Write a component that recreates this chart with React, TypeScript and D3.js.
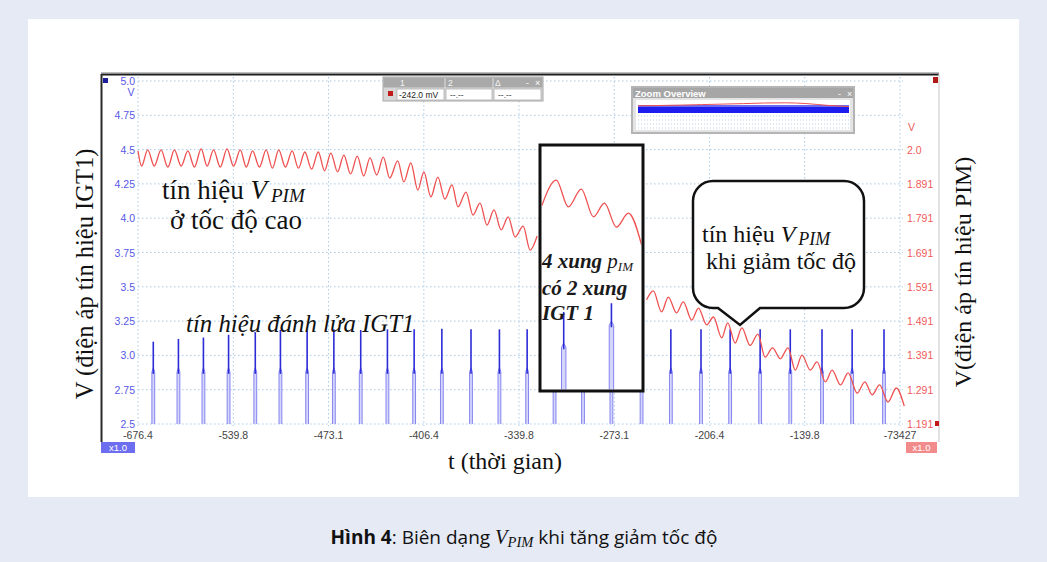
import React from 'react';
import * as d3 from 'd3';

const W = 1047;
const H = 562;

// ---- axes ----
const timeTicks = [-606.5, -539.8, -473.1, -406.4, -339.8, -273.1, -206.4, -139.8, -73.1];
const timeTickLabels = ['-676.4', '-539.8', '-473.1', '-406.4', '-339.8', '-273.1', '-206.4', '-139.8', '-73427'];
const igtTicks = [2.5, 2.75, 3.0, 3.25, 3.5, 3.75, 4.0, 4.25, 4.5, 4.75, 5.0];
const igtTickLabels = ['2.5', '2.75', '3.0', '3.25', '3.5', '3.75', '4.0', '4.25', '4.5', '4.75', '5.0'];
const pimTicks = [1.191, 1.291, 1.391, 1.491, 1.591, 1.691, 1.791, 1.891, 1.991];
const pimTickLabels = ['1.191', '1.291', '1.391', '1.491', '1.591', '1.691', '1.791', '1.891', '2.0'];

// ---- V_PIM signal (t, V) : extrema ----
const pimBefore: [number, number][] = [
  [-606.5, 1.987], [-604.0, 1.943], [-599.7, 1.990], [-595.1, 1.943], [-590.4, 1.990], [-585.6, 1.940],
  [-581.0, 1.990], [-576.3, 1.943], [-571.6, 1.987], [-567.0, 1.940], [-562.3, 1.993], [-558.1, 1.943],
  [-553.6, 1.990], [-548.9, 1.940], [-544.2, 1.993], [-539.6, 1.943], [-534.9, 1.990], [-530.7, 1.940],
  [-526.3, 1.987], [-521.5, 1.940], [-516.8, 1.990], [-512.4, 1.937], [-508.0, 1.990], [-503.3, 1.940],
  [-498.6, 1.987], [-494.2, 1.937], [-489.7, 1.984], [-485.0, 1.934], [-480.3, 1.984], [-475.9, 1.929],
  [-471.5, 1.981], [-466.8, 1.926], [-462.4, 1.975], [-457.7, 1.920], [-453.0, 1.972], [-448.5, 1.914],
  [-444.1, 1.967], [-439.4, 1.917], [-434.8, 1.969], [-430.3, 1.908], [-424.7, 1.958], [-420.4, 1.897],
  [-415.5, 1.952], [-410.6, 1.873], [-406.4, 1.926], [-401.5, 1.853], [-396.6, 1.911], [-391.7, 1.847],
  [-386.7, 1.888], [-382.5, 1.824], [-376.9, 1.867], [-372.0, 1.800], [-367.1, 1.835], [-362.2, 1.771],
  [-357.3, 1.815], [-352.3, 1.757], [-347.4, 1.795], [-342.5, 1.736], [-336.9, 1.768], [-332.0, 1.698],
  [-327.1, 1.739],
];
const pimInset: [number, number][] = [
  [-323.8, 1.828], [-313.7, 1.902], [-305.3, 1.824], [-296.2, 1.876], [-287.7, 1.795],
  [-280.0, 1.835], [-271.6, 1.765], [-263.2, 1.806], [-254.0, 1.713],
];
const pimAfter: [number, number][] = [
  [-250.5, 1.553], [-245.8, 1.579], [-240.0, 1.518], [-235.3, 1.561], [-229.5, 1.515], [-224.8, 1.547],
  [-218.9, 1.494], [-214.2, 1.529], [-208.4, 1.480], [-203.7, 1.503], [-197.9, 1.442], [-193.7, 1.486],
  [-188.5, 1.427], [-183.8, 1.471], [-178.0, 1.420], [-172.6, 1.453], [-167.5, 1.386], [-162.3, 1.413],
  [-156.9, 1.381], [-151.5, 1.413], [-146.4, 1.348], [-141.7, 1.392], [-135.9, 1.348], [-131.2, 1.372],
  [-125.3, 1.314], [-120.6, 1.348], [-114.8, 1.305], [-109.4, 1.340], [-103.1, 1.281], [-97.7, 1.314],
  [-92.6, 1.276], [-87.4, 1.305], [-81.5, 1.255], [-75.7, 1.296], [-70.1, 1.243],
];

// ---- IGT1 ignition pulses ----
const igtTimes = [-595.8, -578.2, -560.7, -543.1, -524.4, -506.8, -488.1, -469.4, -450.6, -431.9, -413.2,
  -393.8, -373.4, -353.5, -334.1, -314.9, -295.0, -275.1, -254.0, -233.5, -212.4, -192.0, -171.0, -149.9,
  -127.7, -106.6, -84.3];
const igtPeaks = [3.10, 3.12, 3.13, 3.15, 3.17, 3.185, 3.18, 3.19, 3.185, 3.19, 3.19, 3.195, 3.19, 3.19,
  3.19, 3.19, 3.19, 3.19, 3.13, 3.19, 3.19, 3.19, 3.19, 3.19, 3.19, 3.19, 3.19];
const insetIgtTimes = [-308.5, -275.1];
const insetIgtPeaks = [3.316, 3.38];
const insetIgtKnees = [3.06, 3.22];

// overview thumbnail red trace (level offsets above the blue band)
const overviewRed = [0.2, 0.5, 0.9, 1.4, 1.9, 2.4, 3.0, 3.2, 2.4, 0.6, -0.6];

const SERIF = '"Liberation Serif", "Times New Roman", serif';
const SANS = '"Liberation Sans", Arial, sans-serif';

export default function App() {
  const x = d3.scaleLinear().domain([-606.5, -73.1]).range([138, 900]);
  const yL = d3.scaleLinear().domain([2.5, 5.0]).range([424, 81]);
  const yR = d3.scaleLinear().domain([1.191, 2.191]).range([424, 81]);
  const line = d3
    .line<[number, number]>()
    .x((d) => x(d[0]))
    .y((d) => yR(d[1]))
    .curve(d3.curveMonotoneX);

  const gridColor = '#a9c9e6';
  const box = { x0: 540, y0: 145, x1: 643, y1: 391 };
  const bub = { x0: 693, y0: 181, x1: 864, y1: 308, r: 20 };
  const bubblePath = `M${bub.x0 + bub.r},${bub.y0} H${bub.x1 - bub.r} A${bub.r},${bub.r} 0 0 1 ${bub.x1},${bub.y0 + bub.r}
    V${bub.y1 - bub.r} A${bub.r},${bub.r} 0 0 1 ${bub.x1 - bub.r},${bub.y1} H760 L740,325 L718,${bub.y1}
    H${bub.x0 + bub.r} A${bub.r},${bub.r} 0 0 1 ${bub.x0},${bub.y1 - bub.r} V${bub.y0 + bub.r}
    A${bub.r},${bub.r} 0 0 1 ${bub.x0 + bub.r},${bub.y0} Z`;

  const ovX = d3.scaleLinear().domain([0, overviewRed.length - 1]).range([638, 849]);
  const ovLine = d3
    .line<number>()
    .x((_, i) => ovX(i))
    .y((d) => 106 - d)
    .curve(d3.curveMonotoneX);

  const spike = (t: number, p: number, key: string, knee = 2.88, baseV = 2.5, w = 1.4) => {
    const cx = x(t);
    const yk = yL(knee);
    const yb = yL(baseV);
    return (
      <g key={key}>
        <path
          d={`M${cx - w},${yb} V${yk} L${cx},${yk - 4} L${cx + w},${yk} V${yb}`}
          fill="#d6d6fa"
          stroke="#8585f0"
          strokeWidth={1}
        />
        <line x1={cx} x2={cx} y1={yL(p)} y2={yk + 2} stroke="#2b2bd8" strokeWidth={1.6} />
      </g>
    );
  };

  return (
    <svg width={W} height={H} style={{ position: 'absolute', left: 0, top: 0 }}>
      <defs>
        <clipPath id="boxClip">
          <rect x={box.x0 + 1.5} y={box.y0 + 1.5} width={box.x1 - box.x0 - 3} height={box.y1 - box.y0 - 3} />
        </clipPath>
      </defs>
      <rect x={0} y={0} width={W} height={H} fill="#e6eaf5" />
      <rect x={28} y={19} width={991} height={478} fill="#ffffff" />

      {/* frame */}
      <line x1={101} x2={939} y1={74.5} y2={74.5} stroke="#1c1c1c" strokeWidth={2.2} />
      <line x1={101} x2={939} y1={72.5} y2={72.5} stroke="#bdbdbd" strokeWidth={1} />
      <line x1={101.5} x2={101.5} y1={74} y2={442} stroke="#2a2a2a" strokeWidth={2} />
      <line x1={939} x2={939} y1={74} y2={442} stroke="#cfcfcf" strokeWidth={1.2} />
      <rect x={103} y={78} width={5} height={5} fill="#1d1d9a" />
      <rect x={933} y={77} width={5} height={6} fill="#b01818" />
      <rect x={935} y={421} width={4} height={5} fill="#c01818" />

      {/* grid */}
      {igtTicks.map((v) => (
        <line key={'gh' + v} x1={138} x2={903} y1={yL(v)} y2={yL(v)} stroke={gridColor} strokeWidth={1} strokeDasharray="1.5,2.5" />
      ))}
      {timeTicks.map((t) => (
        <line key={'gv' + t} x1={x(t)} x2={x(t)} y1={77} y2={426} stroke={gridColor} strokeWidth={1} strokeDasharray="1.5,2.5" />
      ))}

      {/* tick labels */}
      {igtTicks.map((v, i) => (
        <text key={'lt' + v} x={135} y={yL(v) + 4} textAnchor="end" fontFamily={SANS} fontSize={10.5} fill="#5757e6">
          {igtTickLabels[i]}
        </text>
      ))}
      <text x={131} y={96} textAnchor="middle" fontFamily={SANS} fontSize={10.5} fill="#5757e6">V</text>
      {pimTicks.map((v, i) => (
        <text key={'rt' + v} x={907} y={yR(v) + 4} textAnchor="start" fontFamily={SANS} fontSize={10.5} fill="#f05a5a">
          {pimTickLabels[i]}
        </text>
      ))}
      <text x={908} y={131} textAnchor="start" fontFamily={SANS} fontSize={10.5} fill="#f05a5a">V</text>
      {timeTicks.map((t, i) => (
        <text key={'xt' + t} x={x(t)} y={439} textAnchor="middle" fontFamily={SANS} fontSize={10.5} fill="#444">
          {timeTickLabels[i]}
        </text>
      ))}
      <rect x={101} y={442} width={34} height={11} fill="#6d6df0" />
      <text x={118} y={451} textAnchor="middle" fontFamily={SANS} fontSize={9.5} fill="#ffffff">x1.0</text>
      <rect x={906} y={442} width={31} height={11} fill="#f28c8c" />
      <text x={921.5} y={451} textAnchor="middle" fontFamily={SANS} fontSize={9.5} fill="#ffffff">x1.0</text>

      {/* IGT1 pulses */}
      {igtTimes.map((t, i) => spike(t, igtPeaks[i], 'sp' + i))}

      {/* V_PIM trace */}
      <path d={line(pimBefore) || ''} fill="none" stroke="#ef5050" strokeWidth={1.3} />
      <path d={line(pimAfter) || ''} fill="none" stroke="#ef5050" strokeWidth={1.3} />

      {/* readout box */}
      <rect x={383} y={77} width={160} height={24} fill="#d6d6d6" stroke="#a8a8a8" strokeWidth={1} />
      <rect x={383.5} y={77.5} width={159} height={10} fill="#a9a9a9" />
      <text x={400} y={86} fontFamily={SANS} fontSize={8.5} fill="#f4f4f4">1</text>
      <text x={448} y={86} fontFamily={SANS} fontSize={8.5} fill="#f4f4f4">2</text>
      <text x={495} y={86} fontFamily={SANS} fontSize={8.5} fill="#f4f4f4">Δ</text>
      <text x={526} y={86} fontFamily={SANS} fontSize={9} fill="#ffffff">-</text>
      <text x={535} y={86} fontFamily={SANS} fontSize={9} fill="#ffffff">×</text>
      <line x1={445} x2={445} y1={78} y2={88} stroke="#e0e0e0" />
      <line x1={493} x2={493} y1={78} y2={88} stroke="#e0e0e0" />
      <rect x={397} y={89} width={47} height={11} fill="#ffffff" stroke="#b0b0b0" strokeWidth={0.8} />
      <rect x={446} y={89} width={46} height={11} fill="#ffffff" stroke="#b0b0b0" strokeWidth={0.8} />
      <rect x={494} y={89} width={47} height={11} fill="#ffffff" stroke="#b0b0b0" strokeWidth={0.8} />
      <rect x={388} y={91} width={5} height={5} fill="#c01a1a" />
      <text x={399} y={98} fontFamily={SANS} fontSize={8.5} fill="#222">-242.0 mV</text>
      <text x={450} y={98} fontFamily={SANS} fontSize={8.5} fill="#444">--.--</text>
      <text x={498} y={98} fontFamily={SANS} fontSize={8.5} fill="#444">--.--</text>

      {/* zoom overview */}
      <rect x={632} y={87} width={222} height={46} fill="#e4e4e4" stroke="#b4b4b4" strokeWidth={2} />
      <rect x={633} y={88} width={220} height={10} fill="#a6a6a6" />
      <text x={635} y={97} fontFamily={SANS} fontSize={9.5} fontWeight="bold" fill="#ffffff">Zoom Overview</text>
      <text x={838} y={97} fontFamily={SANS} fontSize={9} fill="#ffffff">-</text>
      <text x={847} y={97} fontFamily={SANS} fontSize={9} fill="#ffffff">×</text>
      <rect x={636} y={100} width={214} height={30} fill="#ffffff" />
      {[116, 120, 124, 128].map((yy) => (
        <line key={'ovg' + yy} x1={638} x2={849} y1={yy} y2={yy} stroke="#b8d2ea" strokeDasharray="1,2" />
      ))}
      <rect x={638} y={106} width={211} height={7} fill="#1d1df0" />
      <rect x={638} y={105} width={211} height={2} fill="#6b6bf2" />
      <path d={ovLine(overviewRed) || ''} fill="none" stroke="#ef5050" strokeWidth={1} />

      {/* inset box */}
      <rect x={box.x0} y={box.y0} width={box.x1 - box.x0} height={box.y1 - box.y0} fill="#ffffff" stroke="none" />
      <g clipPath="url(#boxClip)">
        {insetIgtTimes.map((t, i) => spike(t, insetIgtPeaks[i], 'isp' + i, insetIgtKnees[i], 2.45, 2.2))}
        <path d={line(pimInset) || ''} fill="none" stroke="#ef5050" strokeWidth={1.3} />
      </g>
      <rect x={box.x0} y={box.y0} width={box.x1 - box.x0} height={box.y1 - box.y0} fill="none" stroke="#111" strokeWidth={3} />
      <g fontFamily={SERIF} fontSize={21} fontStyle="italic" fontWeight="bold" fill="#1a1a1a">
        <text x={542} y={268}>
          4 xung <tspan fontWeight="normal">p</tspan>
          <tspan fontSize={13} fontWeight="normal" dy={3}>IM</tspan>
        </text>
        <text x={542} y={295}>có 2 xung</text>
        <text x={542} y={320}>IGT 1</text>
      </g>

      {/* speech bubble */}
      <path d={bubblePath} fill="#ffffff" stroke="#111" strokeWidth={2.5} />
      <text x={702} y={242} fontFamily={SERIF} fontSize={24} fill="#111">
        tín hiệu <tspan fontStyle="italic">V</tspan>
        <tspan fontStyle="italic" fontSize={18} dy={3} dx={3}>PIM</tspan>
      </text>
      <text x={706} y={269} fontFamily={SERIF} fontSize={24} fill="#111">khi giảm tốc độ</text>

      {/* annotations */}
      <text x={162} y={199} fontFamily={SERIF} fontSize={27} fill="#111">
        tín hiệu <tspan fontStyle="italic">V</tspan>
        <tspan fontStyle="italic" fontSize={19} dy={3} dx={4}>PIM</tspan>
      </text>
      <text x={170} y={229} fontFamily={SERIF} fontSize={27} fill="#111">ở tốc độ cao</text>
      <text x={186} y={332} fontFamily={SERIF} fontSize={24.8} fontStyle="italic" fill="#111">tín hiệu đánh lửa IGT1</text>

      {/* axis titles */}
      <text transform="translate(93,274) rotate(-90)" textAnchor="middle" fontFamily={SERIF} fontSize={24.5} fill="#111">
        V (điện áp tín hiệu IGT1)
      </text>
      <text transform="translate(971,272) rotate(-90)" textAnchor="middle" fontFamily={SERIF} fontSize={24} fill="#111">
        V(điện áp tín hiệu PIM)
      </text>
      <text x={505} y={469} textAnchor="middle" fontFamily={SERIF} fontSize={24} fill="#111">t (thời gian)</text>

      {/* caption */}
      <text x={524} y={544} textAnchor="middle" fontFamily='"Open Sans", "Noto Sans", sans-serif' fontSize={19} fill="#111">
        <tspan fontWeight="bold">Hình 4</tspan>: Biên dạng <tspan fontFamily={SERIF} fontStyle="italic" fontSize={20.5}>V</tspan>
        <tspan fontFamily={SERIF} fontStyle="italic" fontSize={14.5} dy={3}>PIM</tspan>
        <tspan dy={-3}> khi tăng giảm tốc độ</tspan>
      </text>
    </svg>
  );
}
